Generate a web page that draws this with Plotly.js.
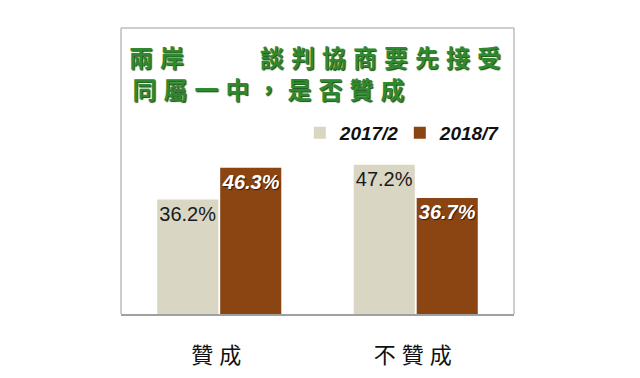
<!DOCTYPE html>
<html>
<head>
<meta charset="utf-8">
<script src="https://cdn.plot.ly/plotly-3.0.1.min.js"></script>
<style>
html, body { margin: 0; padding: 0; background: #ffffff; }
#chart { width: 640px; height: 378px; }
g.annotation text { letter-spacing: 7px; }
.xtick text { letter-spacing: 6px; }
</style>
</head>
<body>
<div id="chart"></div>
<script>
// Data
var categories = ["贊成", "不贊成"];
var seriesNames = ["2017/2", "2018/7"];
var values2017 = [36.2, 47.2];
var values2018 = [46.3, 36.7];
var titleLine1a = "兩岸";
var titleLine1b = "談判協商要先接受";
var titleLine2 = "同屬一中，是否贊成";

var lightColor = "#d9d6c3";
var brownColor = "#8b4513";
var green = "#2f8a2f";

var traces = [
  {
    type: "bar",
    name: seriesNames[0],
    x: categories,
    y: values2017,
    text: values2017.map(function (v) { return v.toFixed(1) + "%"; }),
    textposition: "inside",
    insidetextanchor: "end",
    textangle: 0,
    constraintext: "none",
    textfont: { family: "Liberation Sans, Arial, sans-serif", size: 20, color: "#1a1a1a" },
    marker: { color: lightColor, line: { width: 0 } },
    hoverinfo: "none"
  },
  {
    type: "bar",
    name: seriesNames[1],
    x: categories,
    y: values2018,
    text: values2018.map(function (v) { return v.toFixed(1) + "%"; }),
    textposition: "inside",
    insidetextanchor: "end",
    textangle: 0,
    constraintext: "none",
    textfont: { family: "Liberation Sans, Arial, sans-serif", size: 20, color: "#ffffff", weight: "bold", style: "italic", shadow: "1px 1px 1px #3a1800" },
    marker: { color: brownColor, line: { width: 0 } },
    hoverinfo: "none"
  }
];

var titleFont = { family: "Noto Sans CJK TC, sans-serif", size: 24, color: green, weight: "bold", shadow: "1px 1px 1px #154d15" };

var layout = {
  width: 640,
  height: 378,
  margin: { l: 121, r: 126, t: 28, b: 64 },
  paper_bgcolor: "#ffffff",
  plot_bgcolor: "#ffffff",
  barmode: "group",
  bargap: 0.359,
  bargroupgap: 0.03,
  showlegend: true,
  legend: {
    orientation: "h",
    x: 0.455,
    xanchor: "left",
    y: 0.633,
    yanchor: "middle",
    bgcolor: "rgba(0,0,0,0)",
    font: { family: "Liberation Sans, Arial, sans-serif", size: 19, color: "#111111", weight: "bold", style: "italic" },
    entrywidth: 55,
    entrywidthmode: "pixels"
  },
  xaxis: {
    type: "category",
    range: [-0.5, 1.5],
    showline: true,
    linecolor: "#a0a0a0",
    linewidth: 2,
    ticks: "",
    ticklabelstandoff: 21,
    tickfont: { family: "Noto Sans CJK TC, sans-serif", size: 22, color: "#111111" },
    showgrid: false,
    zeroline: false,
    fixedrange: true
  },
  yaxis: {
    range: [0, 90.5],
    visible: false,
    showgrid: false,
    zeroline: false,
    fixedrange: true
  },
  shapes: [
    { type: "line", xref: "paper", yref: "paper", x0: 0, x1: 0, y0: 0, y1: 1, line: { color: "#bdbdbd", width: 1.5 } },
    { type: "line", xref: "paper", yref: "paper", x0: 0, x1: 1, y0: 1, y1: 1, line: { color: "#bdbdbd", width: 1.5 } },
    { type: "line", xref: "paper", yref: "paper", x0: 1, x1: 1, y0: 0, y1: 1, line: { color: "#bdbdbd", width: 1.5 } }
  ],
  annotations: [
    { text: titleLine1a, xref: "paper", yref: "paper", x: 0.098, y: 0.899, xanchor: "center", yanchor: "middle", showarrow: false, font: titleFont },
    { text: titleLine1b, xref: "paper", yref: "paper", x: 0.668, y: 0.899, xanchor: "center", yanchor: "middle", showarrow: false, font: titleFont },
    { text: titleLine2, xref: "paper", yref: "paper", x: 0.384, y: 0.790, xanchor: "center", yanchor: "middle", showarrow: false, font: titleFont }
  ]
};

Plotly.newPlot("chart", traces, layout, { displayModeBar: false, staticPlot: true });
</script>
</body>
</html>
